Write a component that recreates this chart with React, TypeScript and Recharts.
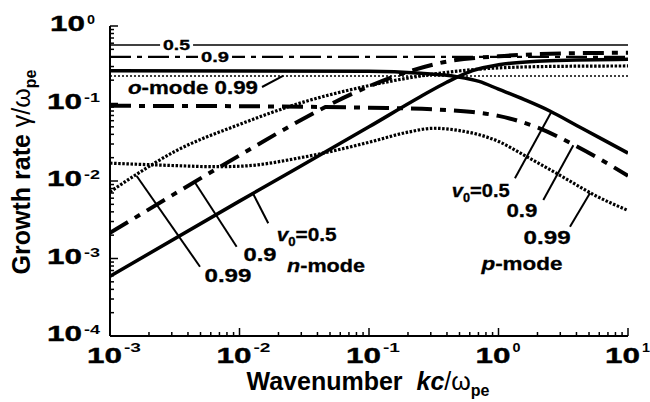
import React from 'react';
import { LineChart, Line, XAxis, YAxis, ReferenceLine, ReferenceDot } from 'recharts';

const FONT = '"Liberation Sans", Arial, Helvetica, sans-serif';

// ---- axis ticks ----
const xMajor = [0.001, 0.01, 0.1, 1, 10];
const yMajor = [0.0001, 0.001, 0.01, 0.1, 1];
const minorMult = [2, 3, 4, 5, 6, 7, 8, 9];
const xExp = ['-3', '-2', '-1', '0', '1'];
const yExp = ['-4', '-3', '-2', '-1', '0'];

// ---- o-mode (flat) ----
const kO = [0.001, 10];
const gO05 = [0.569, 0.569];
const gO09 = [0.4, 0.4];
const gO099 = [0.226, 0.226];

// ---- n-mode ----
const kN05 = [0.001, 0.01, 0.1, 0.251, 0.398, 0.631, 1, 2, 4, 10];
const gN05 = [0.00059, 0.0055, 0.05, 0.123, 0.188, 0.266, 0.316, 0.351, 0.363, 0.372];
const kN09 = [0.001, 0.01, 0.0316, 0.0562, 0.1, 0.2, 0.398, 1, 3.16, 10];
const gN09 = [0.00214, 0.0214, 0.0646, 0.107, 0.166, 0.257, 0.347, 0.407, 0.442, 0.452];
const kN099 = [0.001, 0.00158, 0.00316, 0.01, 0.0316, 0.1, 0.316, 1, 3.16, 10];
const gN099 = [0.00724, 0.012, 0.024, 0.0537, 0.105, 0.17, 0.24, 0.288, 0.302, 0.305];

// ---- p-mode ----
const kP05 = [0.001, 0.1, 0.251, 0.475, 0.708, 1, 1.585, 2.512, 3.981, 6.31, 10];
const gP05 = [0.265, 0.26, 0.245, 0.222, 0.193, 0.153, 0.112, 0.0794, 0.0525, 0.0347, 0.0229];
const kP09 = [0.001, 0.01, 0.1, 0.316, 0.631, 1, 2, 3.98, 10];
const gP09 = [0.0933, 0.0923, 0.0881, 0.0841, 0.0776, 0.0692, 0.049, 0.0282, 0.0117];
const kP099 = [0.001, 0.00316, 0.00631, 0.01, 0.0316, 0.1, 0.2, 0.316, 0.501, 1, 1.585, 3.16, 5.62, 10];
const gP099 = [0.017, 0.0158, 0.0153, 0.0155, 0.0204, 0.0316, 0.0427, 0.0479, 0.0447, 0.0324, 0.0214, 0.0112, 0.00646, 0.00417];

const rows = (k: number[], g: number[]) => k.map((v, i) => ({ k: v, g: g[i] }));

const SOLID_THIN = { w: 1.6, dash: undefined as string | undefined };
const DASHDOT_THIN = { w: 2.2, dash: '21 6 5 6' };
const DOT_THIN = { w: 1.6, dash: '2 2' };
const SOLID = { w: 3.5, dash: undefined as string | undefined };
const DASHDOT = { w: 4, dash: '21 8 6 8' };
const DOT = { w: 3.2, dash: '2.5 1.6' };

const series = [
  { id: 'o05', k: kO, g: gO05, s: SOLID_THIN },
  { id: 'o09', k: kO, g: gO09, s: DASHDOT_THIN },
  { id: 'o099', k: kO, g: gO099, s: DOT_THIN },
  { id: 'n05', k: kN05, g: gN05, s: SOLID },
  { id: 'n09', k: kN09, g: gN09, s: DASHDOT },
  { id: 'n099', k: kN099, g: gN099, s: DOT },
  { id: 'p05', k: kP05, g: gP05, s: SOLID },
  { id: 'p09', k: kP09, g: gP09, s: DASHDOT },
  { id: 'p099', k: kP099, g: gP099, s: DOT },
];

const xTicks = [...xMajor.slice(0, 4).flatMap((d) => [d, ...minorMult.map((m) => m * d)]), 10];
const yTicks = [...yMajor.slice(0, 4).flatMap((d) => [d, ...minorMult.map((m) => m * d)]), 1];

const isMajor = (v: number) => Math.abs(Math.log10(v) - Math.round(Math.log10(v))) < 1e-6;
const expOf = (v: number, majors: number[], exps: string[]) => exps[majors.findIndex((m) => Math.abs(Math.log10(m) - Math.log10(v)) < 1e-6)];

const txt = { fontFamily: FONT, fontWeight: 'bold' as const, fill: '#000' };

const BottomTick = (p: any) => {
  const { x, y, payload } = p;
  const v = payload.value;
  const maj = isMajor(v);
  const e = maj ? expOf(v, xMajor, xExp) : '';
  return (
    <g>
      <line x1={x} x2={x} y1={y} y2={y - (maj ? 8 : 4)} stroke="#000" strokeWidth={1.5} />
      {maj && (
        <g>
          <text x={x - 23} y={y + 27} fontSize={22} textLength={35} lengthAdjust="spacingAndGlyphs" {...txt} stroke="#000" strokeWidth={0.4}>10</text>
          <text x={x + 14} y={y + 16} fontSize={12.5} textLength={e.length > 1 ? 17 : 8} lengthAdjust="spacingAndGlyphs" {...txt}>{e}</text>
        </g>
      )}
    </g>
  );
};

const LeftTick = (p: any) => {
  const { x, y, payload } = p;
  const v = payload.value;
  const maj = isMajor(v);
  const e = maj ? expOf(v, yMajor, yExp) : '';
  const supW = e.length > 1 ? 16 : 8;
  const end = x - 10 - (e.length > 1 ? 0 : 5);
  return (
    <g>
      <line x1={x} x2={x + (maj ? 8 : 4)} y1={y} y2={y} stroke="#000" strokeWidth={1.5} />
      {maj && (
        <g>
          <text x={end - supW - 2 - 35} y={y + 5} fontSize={22} textLength={35} lengthAdjust="spacingAndGlyphs" {...txt} stroke="#000" strokeWidth={0.4}>10</text>
          <text x={end - supW} y={y - 2} fontSize={12.5} textLength={supW} lengthAdjust="spacingAndGlyphs" {...txt}>{e}</text>
        </g>
      )}
    </g>
  );
};

const TopTick = (p: any) => {
  const { x, y, payload } = p;
  const maj = isMajor(payload.value);
  return <line x1={x} x2={x} y1={y} y2={y + (maj ? 8 : 4)} stroke="#000" strokeWidth={1.5} />;
};

const RightTick = (p: any) => {
  const { x, y, payload } = p;
  const maj = isMajor(payload.value);
  return <line x1={x} x2={x - (maj ? 8 : 4)} y1={y} y2={y} stroke="#000" strokeWidth={1.5} />;
};

// ---- annotations (log10 of k, log10 of gamma) ----
const leaderLines: [number, number, number, number][] = [
  [-1.826, -0.787, -1.664, -0.645], // o-mode 0.99
  [-1.778, -2.546, -1.893, -2.17], // n 0.5
  [-2.022, -2.848, -2.344, -2.02], // n 0.9
  [-2.305, -3.106, -2.794, -1.935], // n 0.99
  [0.127, -1.965, 0.411, -1.1], // p 0.5
  [0.346, -2.245, 0.578, -1.54], // p 0.9
  [0.552, -2.59, 0.707, -2.155], // p 0.99
];

const sub = (s: string) => [
  <tspan key="v" fontStyle="italic">v</tspan>,
  <tspan key="0" fontSize={12} dy={5}>0</tspan>,
  <tspan key="r" dy={-5}>{s}</tspan>,
];

type Lbl = { lx: number; ly: number; content: React.ReactNode; len: number; fs: number; anchor: 'start' | 'middle' | 'end'; bg?: boolean };
const labels: Lbl[] = [
  { lx: -2.486, ly: -0.245, content: '0.5', len: 27, fs: 14, anchor: 'middle', bg: true },
  { lx: -2.189, ly: -0.396, content: '0.9', len: 28, fs: 14, anchor: 'middle', bg: true },
  { lx: -2.861, ly: -0.8, content: [<tspan key="o" fontStyle="italic">o</tspan>, <tspan key="m">-mode 0.99</tspan>], len: 130, fs: 18, anchor: 'start' },
  { lx: -1.713, ly: -2.684, content: sub('=0.5'), len: 60, fs: 19, anchor: 'start' },
  { lx: -1.842, ly: -2.942, content: '0.9', len: 33, fs: 19, anchor: 'middle' },
  { lx: -2.089, ly: -3.213, content: '0.99', len: 47, fs: 19, anchor: 'middle' },
  { lx: -1.633, ly: -3.084, content: [<tspan key="n" fontStyle="italic">n</tspan>, <tspan key="m">-mode</tspan>], len: 78, fs: 19, anchor: 'start' },
  { lx: -0.361, ly: -2.116, content: sub('=0.5'), len: 58, fs: 19, anchor: 'start' },
  { lx: 0.181, ly: -2.374, content: '0.9', len: 31, fs: 19, anchor: 'middle' },
  { lx: 0.375, ly: -2.723, content: '0.99', len: 47, fs: 19, anchor: 'middle' },
  { lx: 0.181, ly: -3.058, content: [<tspan key="p" fontStyle="italic">p</tspan>, <tspan key="m">-mode</tspan>], len: 81, fs: 19, anchor: 'middle' },
];

const LabelShape = (props: any) => {
  const { cx, cy, l } = props;
  const lb: Lbl = l;
  const left = lb.anchor === 'start' ? cx : lb.anchor === 'middle' ? cx - lb.len / 2 : cx - lb.len;
  return (
    <g>
      {lb.bg && <rect x={left - 3} y={cy - lb.fs * 0.45} width={lb.len + 6} height={lb.fs * 0.9} fill="#fff" />}
      <text x={cx} y={cy + 0.36 * lb.fs} textAnchor={lb.anchor} fontSize={lb.fs} textLength={lb.len} lengthAdjust="spacingAndGlyphs" {...txt} stroke="#000" strokeWidth={0.3}>
        {lb.content}
      </text>
    </g>
  );
};

const axisLine = { stroke: '#000', strokeWidth: 2 };

export default function App() {
  return (
    <div style={{ position: 'absolute', left: 0, top: 0, width: 650, height: 402, background: '#fff' }}>
      <LineChart width={650} height={402} margin={{ top: 26, right: 22, left: 0, bottom: 26 }}>
        <XAxis xAxisId={0} dataKey="k" type="number" scale="log" domain={[0.001, 10]} allowDataOverflow ticks={xTicks} interval={0}
          height={40} tickSize={0} tickMargin={0} tickLine={false} axisLine={axisLine} tick={(p: any) => <BottomTick {...p} />} />
        <XAxis xAxisId="top" orientation="top" dataKey="k" type="number" scale="log" domain={[0.001, 10]} allowDataOverflow ticks={xTicks} interval={0}
          height={0} tickSize={0} tickMargin={0} tickLine={false} axisLine={axisLine} tick={(p: any) => <TopTick {...p} />} />
        <YAxis yAxisId={0} type="number" scale="log" domain={[0.0001, 1]} allowDataOverflow ticks={yTicks} interval={0}
          width={110} tickSize={0} tickMargin={0} tickLine={false} axisLine={axisLine} tick={(p: any) => <LeftTick {...p} />} />
        <YAxis yAxisId="right" orientation="right" type="number" scale="log" domain={[0.0001, 1]} allowDataOverflow ticks={yTicks} interval={0}
          width={0} tickSize={0} tickMargin={0} tickLine={false} axisLine={axisLine} tick={(p: any) => <RightTick {...p} />} />
        {series.map((s) => (
          <Line key={s.id} data={rows(s.k, s.g)} dataKey="g" type="monotone" stroke="#000" strokeWidth={s.s.w}
            strokeDasharray={s.s.dash} dot={false} activeDot={false} isAnimationActive={false} />
        ))}
        {leaderLines.map((l, i) => (
          <ReferenceLine key={'ld' + i} segment={[{ x: Math.pow(10, l[0]), y: Math.pow(10, l[1]) }, { x: Math.pow(10, l[2]), y: Math.pow(10, l[3]) }]}
            stroke="#000" strokeWidth={2} ifOverflow="visible" />
        ))}
        {labels.map((l, i) => (
          <ReferenceDot key={'lb' + i} x={Math.pow(10, l.lx)} y={Math.pow(10, l.ly)} r={1} ifOverflow="visible"
            shape={(p: any) => <LabelShape {...p} l={l} />} />
        ))}
      </LineChart>
      <svg width={650} height={402} style={{ position: 'absolute', left: 0, top: 0, pointerEvents: 'none' }}>
        <text transform="translate(30,172) rotate(-90)" textAnchor="middle" fontSize={25} {...txt}>
          Growth rate <tspan fontWeight="normal">γ/ω</tspan><tspan fontSize={16} dy={6}>pe</tspan>
        </text>
        <text x={368} y={390} textAnchor="middle" fontSize={25} {...txt}>
          {'Wavenumber\u00A0\u00A0'}<tspan fontStyle="italic">kc</tspan><tspan fontWeight="normal">/ω</tspan><tspan fontSize={16} dy={6}>pe</tspan>
        </text>
      </svg>
    </div>
  );
}
